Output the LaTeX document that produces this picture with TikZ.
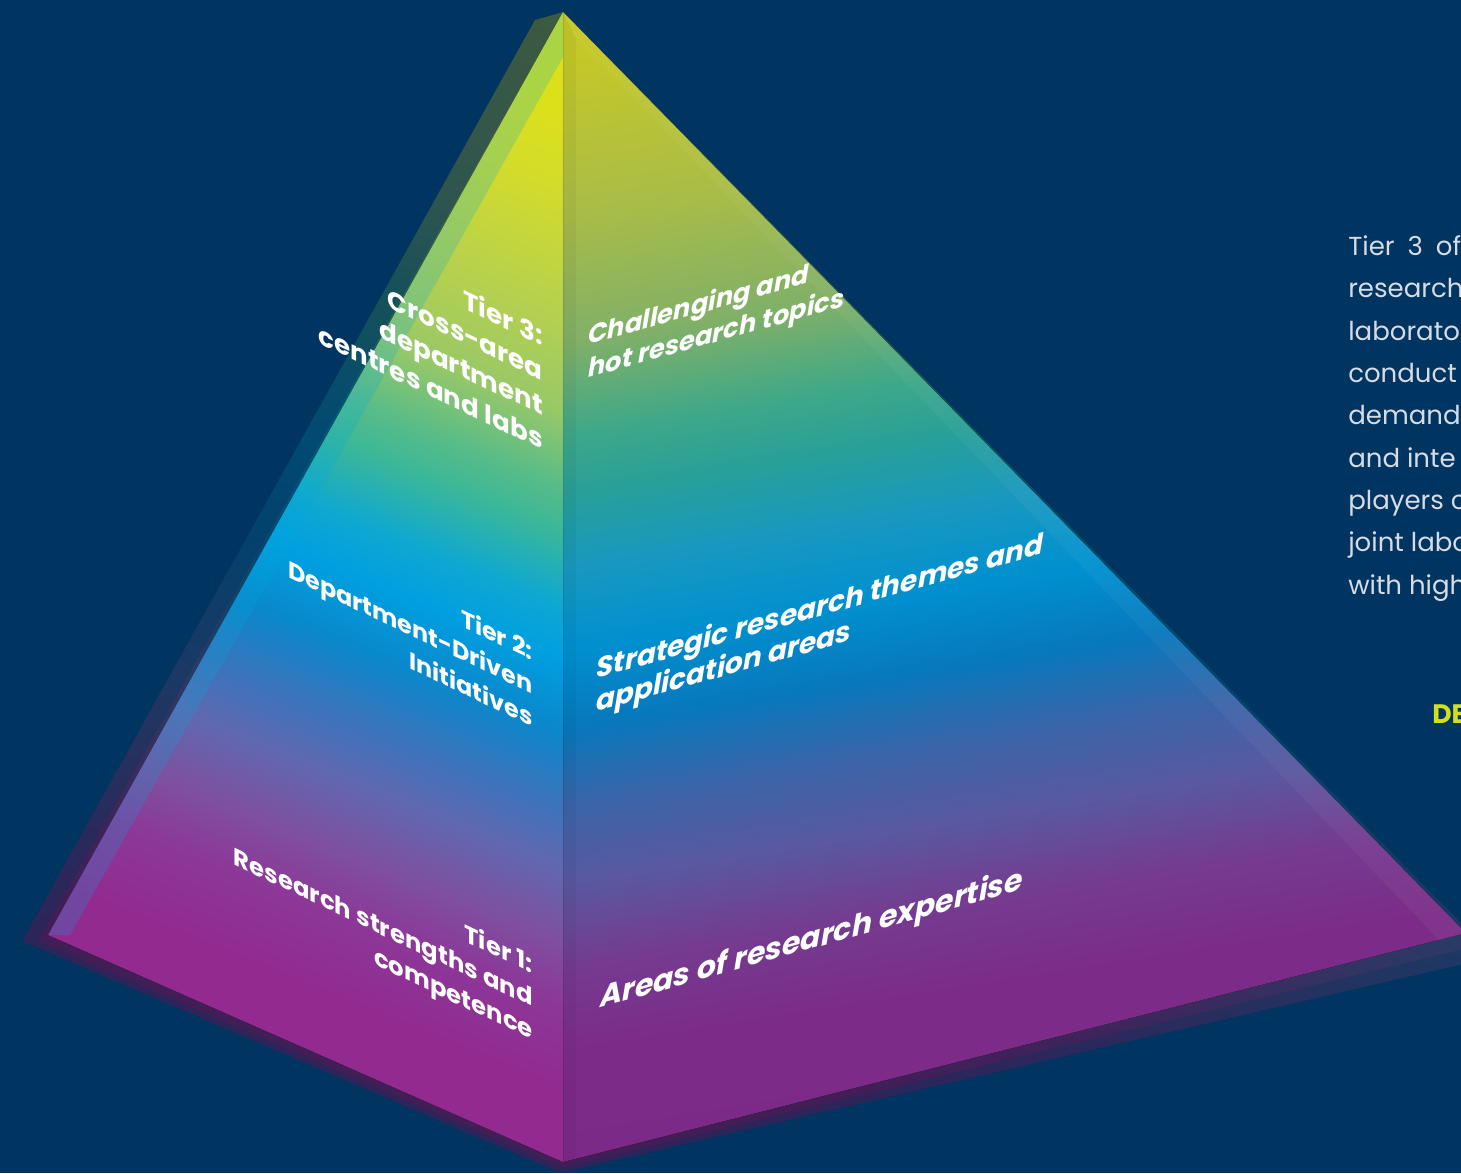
\documentclass[tikz,border=0pt]{standalone}
\usepackage{fontspec}
\setmainfont{Poppins}
\usetikzlibrary{calc}

\definecolor{bgnavy}{RGB}{0,53,98}
\definecolor{paragray}{RGB}{214,219,228}
\definecolor{tagyellow}{RGB}{210,222,30}
\definecolor{edgecyan}{RGB}{0,170,220}

% left face colours, bottom to top
\definecolor{la}{RGB}{146,42,144}
\definecolor{lb}{RGB}{140,56,152}
\definecolor{lc}{RGB}{126,80,160}
\definecolor{ld}{RGB}{96,104,176}
\definecolor{le}{RGB}{58,116,188}
\definecolor{lf}{RGB}{10,136,204}
\definecolor{lg}{RGB}{0,160,224}
\definecolor{lh}{RGB}{16,168,208}
\definecolor{li}{RGB}{60,184,152}
\definecolor{lj}{RGB}{88,188,136}
\definecolor{lk}{RGB}{152,200,104}
\definecolor{ll}{RGB}{180,208,80}
\definecolor{lm}{RGB}{212,220,42}
\definecolor{ln}{RGB}{220,224,26}
% right face colours, bottom to top
\definecolor{ra}{RGB}{124,42,136}
\definecolor{rb}{RGB}{124,44,136}
\definecolor{rc}{RGB}{116,60,144}
\definecolor{rd}{RGB}{90,88,160}
\definecolor{re}{RGB}{60,100,168}
\definecolor{rf}{RGB}{8,120,188}
\definecolor{rg}{RGB}{0,144,208}
\definecolor{rh}{RGB}{24,152,192}
\definecolor{ri}{RGB}{40,160,152}
\definecolor{rj}{RGB}{64,168,136}
\definecolor{rk}{RGB}{128,176,104}
\definecolor{rl}{RGB}{168,188,72}
\definecolor{rm}{RGB}{196,200,40}

\pgfdeclareverticalshading{leftface}{100bp}{color(0bp)=(la); color(30.7bp)=(la);
  color(35bp)=(lb); color(38.1bp)=(lc); color(41.6bp)=(ld); color(44.6bp)=(le);
  color(48.1bp)=(lf); color(51.6bp)=(lg); color(54.2bp)=(lh); color(57.7bp)=(li);
  color(59.8bp)=(lj); color(63.3bp)=(lk); color(67.7bp)=(ll); color(74.2bp)=(lm);
  color(78bp)=(ln); color(100bp)=(ln)}
\pgfdeclareverticalshading{rightface}{100bp}{color(0bp)=(ra); color(27.8bp)=(ra);
  color(32.6bp)=(rb); color(36.5bp)=(rc); color(40bp)=(rd); color(43.4bp)=(re);
  color(46.9bp)=(rf); color(50.4bp)=(rg); color(53.9bp)=(rh); color(57.3bp)=(ri);
  color(60bp)=(rj); color(63.9bp)=(rk); color(69.5bp)=(rl); color(76.5bp)=(rm);
  color(100bp)=(rm)}

\begin{document}
\begin{tikzpicture}[x=0.025cm, y=-0.025cm,
    leftlabel/.style={text=white, font=\bfseries, align=right, inner sep=0pt, transform shape},
    rightlabel/.style={text=white, font=\bfseries\itshape, align=left, inner sep=0pt, transform shape},
    paratext/.style={text=paragray, font=\fontsize{18.5}{30.1}\selectfont,
      align=left, inner sep=0pt},
    deptag/.style={text=tagyellow, font=\bfseries\fontsize{19}{23}\selectfont, inner sep=0pt}]
	%%%%% BACKGROUND %%%%%
	\fill[bgnavy] (0,0) rectangle (1461,1173);
	\useasboundingbox (0,0) rectangle (1461,1173);
	
	\coordinate (apex) at (563,12);
	\coordinate (leftc) at (48,935);
	\coordinate (bottomc) at (563,1162);
	\coordinate (rightc) at (1466,933);
	
	%%%%% BACK LAYERS %%%%%
	\fill[shading=leftface, shading angle=-12, opacity=0.3] (535,20) -- (22,941) -- (560,1173) -- (1472,962) -- (1472,934) -- (apex) -- cycle;
	\fill[shading=leftface, shading angle=-12, opacity=0.3] (apex) -- (38,941) -- (562,1168) -- (1472,947) -- (rightc) -- cycle;
	
	%%%%% FACES %%%%%
	\fill[shading=rightface, shading angle=9] (apex) -- (bottomc) -- (rightc) -- cycle;
	\fill[shading=leftface, shading angle=-22] (apex) -- (leftc) -- (bottomc) -- cycle;
	
	\fill[edgecyan, opacity=0.22] (apex) -- (leftc) -- (70,935) -- (563,57) -- cycle;
	\fill[white, opacity=0.04] (apex) -- (rightc) -- (1440,941) -- (578,40) -- cycle;
	\fill[black, opacity=0.04] (apex) -- (bottomc) -- (576,1159) -- (576,40) -- cycle;
	
	%%%%% LABELS %%%%%
	\begin{scope}[shift={(543,450)}, yslant=-0.475]
		\node[leftlabel, font=\bfseries\fontsize{18.6}{24.6}\selectfont, anchor=base east] (tierthree) at (0,0) {Tier 3:\\Cross-area\\department\\centres and labs};
	\end{scope}
	\begin{scope}[shift={(533,727)}, yslant=-0.475]
		\node[leftlabel, font=\bfseries\fontsize{17}{23.6}\selectfont, anchor=base east] (tiertwo) at (0,0) {Tier 2:\\Department-Driven\\Initiatives};
	\end{scope}
	\begin{scope}[shift={(533,1040)}, yslant=-0.475]
		\node[leftlabel, font=\bfseries\fontsize{17.3}{23.6}\selectfont, anchor=base east] (tierone) at (0,0) {Tier 1:\\Research strengths and\\competence};
	\end{scope}
	
	\begin{scope}[shift={(588,378)}, yslant=0.28]
		\node[rightlabel, font=\bfseries\itshape\fontsize{18.3}{23.6}\selectfont, anchor=base west] (hottopics) at (0,0) {Challenging and\\hot research topics};
	\end{scope}
	\begin{scope}[shift={(596,712)}, yslant=0.28]
		\node[rightlabel, font=\bfseries\itshape\fontsize{19.9}{23.6}\selectfont, anchor=base west] (strategic) at (0,0) {Strategic research themes and\\application areas};
	\end{scope}
	\begin{scope}[shift={(600,1008)}, yslant=0.28]
		\node[rightlabel, font=\bfseries\itshape\fontsize{21.3}{24}\selectfont, anchor=base west] (expertise) at (0,0) {Areas of research expertise};
	\end{scope}
	
	%%%%% SIDE TEXT %%%%%
	\node[paratext, anchor=base west] (tiertext) at (1348,594) {Tier\hspace{0.5em}3\hspace{0.5em}of\\research\\laborato\\conduct\\demand\\and inte\\players c\\joint labo\\with high};
	\node[deptag, anchor=base west] (depttag) at (1432,723) {DE};
	
	%%%%% END %%%%%
\end{tikzpicture}
\end{document}
